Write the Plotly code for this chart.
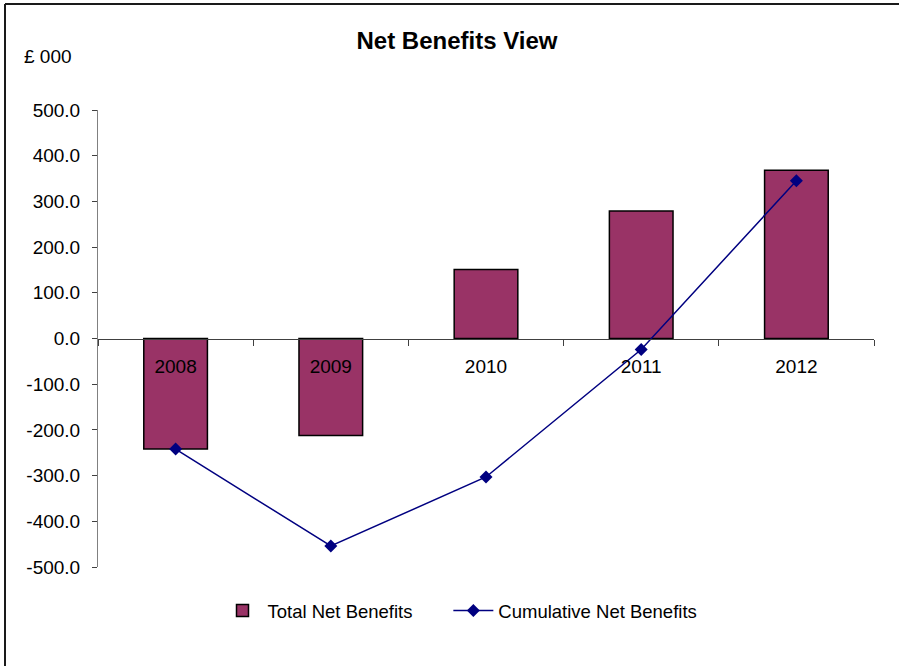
import plotly.graph_objects as go

years = ["2008", "2009", "2010", "2011", "2012"]
total_net = [-242, -212, 151, 279, 368]
cumulative_net = [-242, -454, -303, -24, 345]
y_tickvals = [500, 400, 300, 200, 100, 0, -100, -200, -300, -400, -500]
y_ticktext = ["500.0", "400.0", "300.0", "200.0", "100.0", "0.0",
              "-100.0", "-200.0", "-300.0", "-400.0", "-500.0"]

FONT = "Liberation Sans, Arial, sans-serif"
L, R, T, B = 98, 25, 110, 99
W, H = 899, 666
pw = W - L - R
ph = H - T - B

fig = go.Figure()
fig.add_trace(go.Bar(
    x=years, y=total_net, name="Total Net Benefits" + "\u00a0" * 6,
    marker=dict(color="#993366", line=dict(color="#000000", width=1.5)),
))
fig.add_trace(go.Scatter(
    x=years, y=cumulative_net, name="Cumulative Net Benefits",
    mode="lines+markers",
    line=dict(color="#000080", width=1.5),
    marker=dict(symbol="diamond", size=10, color="#000080"),
))

fig.update_layout(
    width=W, height=H,
    margin=dict(l=L, r=R, t=T, b=B, autoexpand=False),
    paper_bgcolor="white", plot_bgcolor="white",
    font=dict(family=FONT, size=19, color="#000000"),
    bargap=0.59,
    showlegend=True,
    legend=dict(orientation="h", x=(460 - L) / pw, xanchor="center",
                y=(567 - 611) / ph, yanchor="middle",
                font=dict(size=18.5), itemwidth=40,
                traceorder="normal"),
    title=dict(text="<b>Net Benefits View</b>", x=457 / W, xanchor="center",
               y=1 - 41 / H, yanchor="middle",
               font=dict(size=24, family=FONT, color="#000000")),
    xaxis=dict(type="category", anchor="free", position=0.5,
               showline=True, linecolor="#404040", linewidth=1,
               ticks="outside", ticklen=6, tickcolor="#404040",
               tickson="boundaries", showgrid=False, zeroline=False,
               ticklabelstandoff=11, tickfont=dict(size=19)),
    xaxis2=dict(overlaying="x", anchor="free", position=0.5,
                range=[-0.5, 4.5], tickvals=[-0.5, 0.5, 1.5, 2.5, 3.5, 4.5],
                ticks="inside", ticklen=6, tickcolor="#404040",
                showticklabels=False, showgrid=False, zeroline=False,
                showline=False),
    yaxis=dict(range=[-500, 500], tickvals=y_tickvals, ticktext=y_ticktext,
               showline=True, linecolor="#808080", linewidth=1,
               ticks="outside", ticklen=5, tickcolor="#404040",
               showgrid=False, zeroline=False, tickfont=dict(size=19),
               ticklabelstandoff=8),
    yaxis2=dict(overlaying="y", anchor="x", side="left", range=[-500, 500],
                tickvals=y_tickvals, ticks="inside", ticklen=5,
                tickcolor="#404040", showticklabels=False, showgrid=False,
                zeroline=False, showline=False),
)

# chart frame (only left and top edges visible in the picture)
x_left = (5 - L) / pw
y_top = (H - B - 4) / ph
fig.add_shape(type="line", xref="paper", yref="paper",
              x0=x_left, x1=x_left, y0=y_top, y1=(H - B - (H + 50)) / ph,
              line=dict(color="#1a1a1a", width=2), layer="below")
fig.add_shape(type="line", xref="paper", yref="paper",
              x0=x_left, x1=(W + 50 - L) / pw, y0=y_top, y1=y_top,
              line=dict(color="#1a1a1a", width=2), layer="below")

fig.add_annotation(text="£ 000", xref="paper", yref="paper",
                   x=(22 - L) / pw, y=(H - B - 56) / ph,
                   xanchor="left", yanchor="middle", showarrow=False,
                   font=dict(size=19, family=FONT, color="#000000"))

fig.write_html("out.html")
